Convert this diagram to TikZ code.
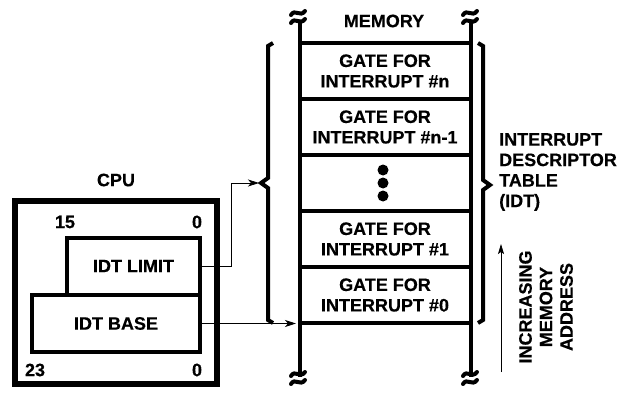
\documentclass[tikz,border=0pt]{standalone}
\usepackage{fontspec}
\setmainfont{Liberation Sans}[BoldFeatures={FakeBold=0.4}]
\usetikzlibrary{arrows.meta}
\begin{document}
\begin{tikzpicture}[x=1pt,y=-1pt,
  every node/.style={font=\fontsize{18}{20.5}\selectfont\bfseries, inner sep=0pt},
  cell/.style={draw, line width=4pt, minimum width=171pt, minimum height=56pt, align=center},
  reg/.style={draw, line width=4pt, align=center},
  conn/.style={line width=0.8pt, -{Stealth[length=11pt,width=7pt,inset=3pt]}},
  brace/.style={line width=4pt, line join=miter},
  brk/.pic={
    \draw[line width=4pt, line cap=round] (-7,-2) .. controls (-3,-9) and (2,1) .. (7,-6);
    \draw[line width=4pt, line cap=round] (-7,6) .. controls (-3,-1) and (2,9) .. (7,2);
  }]
\useasboundingbox (0,0) rectangle (630,396);

% memory column
\draw[line width=4pt] (299.5,20) -- (299.5,377);
\draw[line width=4pt] (470.5,20) -- (470.5,377);
\pic at (298,17) {brk};
\pic at (470,17) {brk};
\pic at (298,378) {brk};
\pic at (470,378) {brk};
\node (mem) at (384,21) {MEMORY};

\node[cell] (m1) at (385,71)  {GATE FOR\\INTERRUPT \#n};
\node[cell] (m2) at (385,127) {GATE FOR\\INTERRUPT \#n-1};
\node[cell] (m3) at (385,183) {};
\node[cell] (m4) at (385,239) {GATE FOR\\INTERRUPT \#1};
\node[cell] (m5) at (385,295) {GATE FOR\\INTERRUPT \#0};
\fill ([shift={(-2,-13)}]m3.center) circle (5.5pt);
\fill ([shift={(-2,0)}]m3.center) circle (5.5pt);
\fill ([shift={(-2,13)}]m3.center) circle (5.5pt);

% braces
\draw[brace] (273,43) -- (268,46) -- (268,178) -- (261,183) -- (268,188) -- (268,320) -- (273,323);
\draw[brace] (478,43) -- (483,46) -- (483,180) -- (490,185) -- (483,190) -- (483,320) -- (478,323);
\coordinate (lbtip) at (259,183);
\coordinate (basetip) at (296,323);

\node[anchor=west, align=left] (idt) at (499,172) {INTERRUPT\\DESCRIPTOR\\TABLE\\(IDT)};

% increasing address
\coordinate (upfrom) at (501,372);
\coordinate (upto) at (501,244);
\draw[line width=0.8pt, -{Stealth[length=10pt,width=6pt,inset=2pt]}] (upfrom) -- (upto);
\node[rotate=90, align=center] (inc) at (546,307) {INCREASING\\MEMORY\\ADDRESS};

% CPU
\node (cpul) at (116,180) {CPU};
\node[draw, line width=6.5pt, minimum width=202pt, minimum height=183pt] (cpu) at (116,292.5) {};
\node[reg, minimum width=133pt, minimum height=57pt] (limit) at (133.5,266) {IDT LIMIT};
\node[reg, fill=white, minimum width=168pt, minimum height=57pt] (base) at (116,323.5) {IDT BASE};
\node (b15) at (65,222) {15};
\node (b0a) at (197,222) {0};
\node (b23) at (35,370) {23};
\node (b0b) at (197,370) {0};

% connectors
\draw[conn] (limit.east) -- ++(29,0) |- (lbtip);
\draw[conn] (base.east) -- (base.east -| basetip);
\end{tikzpicture}
\end{document}
